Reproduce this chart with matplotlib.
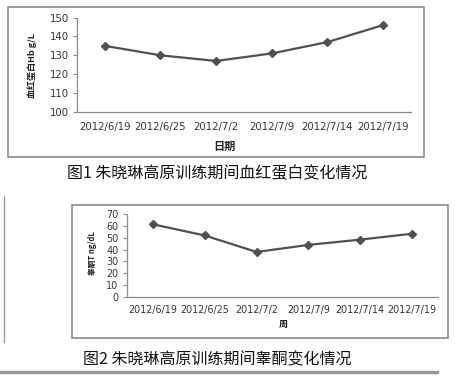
import matplotlib
matplotlib.use("Agg")
import matplotlib.pyplot as plt
from matplotlib.patches import Rectangle
from matplotlib.lines import Line2D

plt.rcParams['font.family'] = ['DejaVu Sans', 'Noto Sans CJK SC']

dates = ["2012/6/19", "2012/6/25", "2012/7/2", "2012/7/9", "2012/7/14", "2012/7/19"]
hb_values = [135, 130, 127, 131, 137, 146]
t_values = [61.5, 52, 38, 44, 48.5, 53.5]
hb_yticks = [100, 110, 120, 130, 140, 150]
t_yticks = [0, 10, 20, 30, 40, 50, 60, 70]

W, H = 456, 381
fig = plt.figure(figsize=(W / 100, H / 100), dpi=100)

CJK = ['Noto Sans CJK SC', 'DejaVu Sans']

def box(x0, y0, x1, y1):
    return [x0 / W, 1 - y1 / H, (x1 - x0) / W, (y1 - y0) / H]

def fx(x):
    return x / W

def fy(y):
    return 1 - y / H

# frames
fig.add_artist(Rectangle((fx(8), fy(157)), (424 - 8) / W, (157 - 7) / H,
                         transform=fig.transFigure, fill=False, ec="#8a8a8a", lw=1.2))
fig.add_artist(Rectangle((fx(72), fy(338)), (448 - 72) / W, (338 - 205) / H,
                         transform=fig.transFigure, fill=False, ec="#8a8a8a", lw=1.2))
fig.add_artist(Line2D([fx(4), fx(4)], [fy(196), fy(342)], transform=fig.transFigure,
                      color="#9a9a9a", lw=1.0))
fig.add_artist(Line2D([fx(0), fx(437)], [fy(372), fy(372)], transform=fig.transFigure,
                      color="#9a9a9a", lw=2.5))

def style(ax, fs, xpad):
    for s in ["top", "right"]:
        ax.spines[s].set_visible(False)
    for s in ["left", "bottom"]:
        ax.spines[s].set_color("#8a8a8a")
        ax.spines[s].set_linewidth(0.9)
    ax.tick_params(axis="y", length=3, color="#8a8a8a", labelsize=fs, pad=3,
                   labelcolor="#333333")
    ax.tick_params(axis="x", length=0, labelsize=fs, pad=xpad, labelcolor="#333333")
    ax.set_xlim(-0.5, len(dates) - 0.5)

# top chart
ax1 = fig.add_axes(box(77, 17.5, 411, 112))
ax1.plot(range(len(dates)), hb_values, color="#505050", lw=1.6, marker="D", ms=4.5)
ax1.set_ylim(100, 150)
ax1.set_yticks(hb_yticks)
ax1.set_xticks(range(len(dates)))
ax1.set_xticklabels(dates)
style(ax1, 7.3, 7)
fig.text(fx(32), fy(66), "血红蛋白Hb g/L", rotation=90, ha="center", va="center",
         fontsize=6.5, fontweight="bold", color="#222222", family=CJK)
fig.text(fx(224), fy(146), "日期", ha="center", va="center", fontsize=8,
         fontweight="bold", color="#222222", family=CJK)
fig.text(fx(217), fy(174), "图1 朱晓琳高原训练期间血红蛋白变化情况", ha="center",
         va="center", fontsize=11.5, color="#111111", family=CJK)

# bottom chart
ax2 = fig.add_axes(box(127, 214.3, 438, 296.7))
ax2.plot(range(len(dates)), t_values, color="#505050", lw=1.6, marker="D", ms=4.5)
ax2.set_ylim(0, 70)
ax2.set_yticks(t_yticks)
ax2.set_xticks(range(len(dates)))
ax2.set_xticklabels(dates)
style(ax2, 6.9, 6)
fig.text(fx(93), fy(253), "睾酮T ng/dL", rotation=90, ha="center", va="center",
         fontsize=5.5, fontweight="bold", color="#222222", family=CJK)
fig.text(fx(283), fy(324), "周", ha="center", va="center", fontsize=6.5,
         fontweight="bold", color="#222222", family=CJK)
fig.text(fx(217), fy(360), "图2 朱晓琳高原训练期间睾酮变化情况", ha="center",
         va="center", fontsize=11.5, color="#111111", family=CJK)

fig.savefig("out.png", dpi=100)
